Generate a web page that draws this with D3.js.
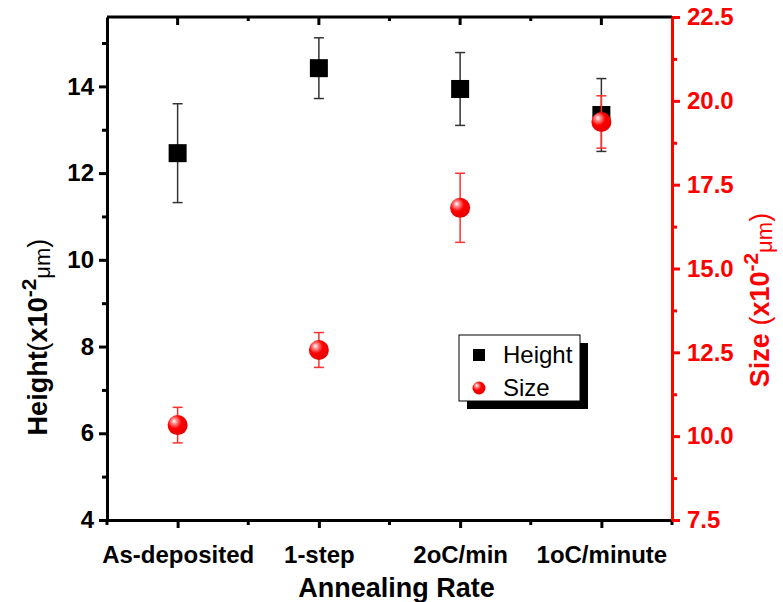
<!DOCTYPE html>
<html>
<head>
<meta charset="utf-8">
<script src="https://cdn.jsdelivr.net/npm/d3@7"></script>
<style>
  body { margin: 0; background: #fff; }
  text { font-family: Arial, "Liberation Sans", sans-serif; }
</style>
</head>
<body>
<div id="chart"></div>
<script>
// data
const categories = ["As-deposited", "1-step", "2oC/min", "1oC/minute"];
const heightValues = [12.46, 14.42, 13.94, 13.34];
const heightErrors = [1.14, 0.70, 0.84, 0.84];
const sizeValues = [10.33, 12.57, 16.81, 19.37];
const sizeErrors = [0.53, 0.52, 1.03, 0.78];
const leftTicks = [4, 6, 8, 10, 12, 14];
const leftMinor = [5, 7, 9, 11, 13, 15];
const rightTicks = [7.5, 10, 12.5, 15, 17.5, 20, 22.5];
const rightMinor = [8.75, 11.25, 13.75, 16.25, 18.75, 21.25];

const width = 783, height = 602;
const plot = { left: 107, right: 672, top: 17, bottom: 520 };
const RED = "#ff0000";
const tickFont = "24px";

const svg = d3.select("#chart")
  .append("svg")
  .attr("width", width)
  .attr("height", height);

const x = d3.scalePoint()
  .domain(categories)
  .range([plot.left, plot.right])
  .padding(0.5);

const yL = d3.scaleLinear().domain([4, 15.6]).range([plot.bottom, plot.top]);
const yR = d3.scaleLinear().domain([7.5, 22.5]).range([plot.bottom, plot.top]);

// gradient for the red balls
const defs = svg.append("defs");
const grad = defs.append("radialGradient")
  .attr("id", "ball")
  .attr("cx", "38%").attr("cy", "36%").attr("r", "62%")
  .attr("fx", "32%").attr("fy", "30%");
grad.append("stop").attr("offset", "0%").attr("stop-color", "#ffffff");
grad.append("stop").attr("offset", "22%").attr("stop-color", "#ff8a8a");
grad.append("stop").attr("offset", "55%").attr("stop-color", "#ff0000");
grad.append("stop").attr("offset", "100%").attr("stop-color", "#e80000");

// frame top line with inward ticks
svg.append("line")
  .attr("x1", plot.left).attr("x2", plot.right)
  .attr("y1", plot.top).attr("y2", plot.top)
  .attr("stroke", "#000").attr("stroke-width", 3);

const edges = categories.map(c => x(c) - x.step() / 2)
  .concat([x(categories[categories.length - 1]) + x.step() / 2]);

svg.append("g").selectAll("line")
  .data(categories)
  .join("line")
  .attr("x1", d => x(d)).attr("x2", d => x(d))
  .attr("y1", plot.top).attr("y2", plot.top + 8)
  .attr("stroke", "#000").attr("stroke-width", 3);

svg.append("g").selectAll("line")
  .data(edges.slice(1, -1))
  .join("line")
  .attr("x1", d => d).attr("x2", d => d)
  .attr("y1", plot.top).attr("y2", plot.top + 4)
  .attr("stroke", "#000").attr("stroke-width", 3);

// bottom axis
const xAxis = svg.append("g")
  .attr("transform", `translate(0,${plot.bottom})`)
  .call(d3.axisBottom(x).tickSize(8).tickPadding(18).tickSizeOuter(0));
xAxis.select(".domain").attr("stroke-width", 3);
xAxis.selectAll(".tick line").attr("stroke-width", 3);
xAxis.selectAll("text")
  .style("font-size", tickFont)
  .style("font-weight", "bold")
  .attr("fill", "#000");

svg.append("g").selectAll("line")
  .data(edges)
  .join("line")
  .attr("x1", d => d).attr("x2", d => d)
  .attr("y1", plot.bottom).attr("y2", plot.bottom + 5)
  .attr("stroke", "#000").attr("stroke-width", 3);

// left axis
const leftAxis = svg.append("g")
  .attr("transform", `translate(${plot.left},0)`)
  .call(d3.axisLeft(yL).tickValues(leftTicks).tickSize(8).tickPadding(5).tickSizeOuter(0));
leftAxis.select(".domain").attr("stroke-width", 3);
leftAxis.selectAll(".tick line").attr("stroke-width", 3);
leftAxis.selectAll("text")
  .style("font-size", tickFont)
  .style("font-weight", "bold")
  .attr("fill", "#000");

svg.append("g")
  .attr("transform", `translate(${plot.left},0)`)
  .call(d3.axisLeft(yL).tickValues(leftMinor).tickSize(5).tickFormat(""))
  .call(g => g.select(".domain").remove())
  .selectAll(".tick line").attr("stroke-width", 3);

// right axis (red)
const rightAxis = svg.append("g")
  .attr("transform", `translate(${plot.right},0)`)
  .call(d3.axisRight(yR).tickValues(rightTicks).tickSize(8).tickPadding(7)
    .tickSizeOuter(0).tickFormat(d3.format(".1f")));
rightAxis.select(".domain").attr("stroke", RED).attr("stroke-width", 3);
rightAxis.selectAll(".tick line").attr("stroke", RED).attr("stroke-width", 3);
rightAxis.selectAll("text")
  .style("font-size", tickFont)
  .style("font-weight", "bold")
  .attr("fill", RED);

svg.append("g")
  .attr("transform", `translate(${plot.right},0)`)
  .call(d3.axisRight(yR).tickValues(rightMinor).tickSize(5).tickFormat(""))
  .call(g => g.select(".domain").remove())
  .selectAll(".tick line").attr("stroke", RED).attr("stroke-width", 3);

// axis titles
svg.append("text")
  .attr("x", (plot.left + plot.right) / 2 + 7)
  .attr("y", 597)
  .attr("text-anchor", "middle")
  .style("font-size", "27px")
  .style("font-weight", "bold")
  .text("Annealing Rate");

function unitTitle(sel, label, color) {
  sel.attr("text-anchor", "middle")
    .style("font-size", "27px")
    .style("font-weight", "bold")
    .attr("fill", color);
  sel.append("tspan").text(label);
  sel.append("tspan").style("font-weight", "normal").text("(");
  sel.append("tspan").text("x10");
  sel.append("tspan").attr("dy", -11).style("font-size", "21px").text("-2");
  sel.append("tspan").attr("dy", 14).style("font-size", "22px").style("font-weight", "normal").text("μm");
  sel.append("tspan").attr("dy", -3).style("font-weight", "normal").text(")");
}

svg.append("text")
  .attr("transform", "translate(47,337) rotate(-90)")
  .call(unitTitle, "Height", "#000");

svg.append("text")
  .attr("transform", "translate(769,300) rotate(-90)")
  .call(unitTitle, "Size ", RED);

// height error bars + squares
const capW = 10;
const hErr = svg.append("g");
categories.forEach((c, i) => {
  const lo = yL(heightValues[i] - heightErrors[i]);
  const hi = yL(heightValues[i] + heightErrors[i]);
  hErr.append("line").attr("x1", x(c)).attr("x2", x(c)).attr("y1", lo).attr("y2", hi);
  hErr.append("line").attr("x1", x(c) - capW / 2).attr("x2", x(c) + capW / 2).attr("y1", lo).attr("y2", lo);
  hErr.append("line").attr("x1", x(c) - capW / 2).attr("x2", x(c) + capW / 2).attr("y1", hi).attr("y2", hi);
});
hErr.attr("stroke", "#333").attr("stroke-width", 1.5);

svg.append("g").selectAll("rect")
  .data(categories)
  .join("rect")
  .attr("x", d => x(d) - 9)
  .attr("y", (d, i) => yL(heightValues[i]) - 9)
  .attr("width", 18)
  .attr("height", 18)
  .attr("fill", "#000");

// size error bars + balls
const sErr = svg.append("g");
categories.forEach((c, i) => {
  const lo = yR(sizeValues[i] - sizeErrors[i]);
  const hi = yR(sizeValues[i] + sizeErrors[i]);
  sErr.append("line").attr("x1", x(c)).attr("x2", x(c)).attr("y1", lo).attr("y2", hi);
  sErr.append("line").attr("x1", x(c) - capW / 2).attr("x2", x(c) + capW / 2).attr("y1", lo).attr("y2", lo);
  sErr.append("line").attr("x1", x(c) - capW / 2).attr("x2", x(c) + capW / 2).attr("y1", hi).attr("y2", hi);
});
sErr.attr("stroke", "#ff3030").attr("stroke-width", 1.5);

svg.append("g").selectAll("circle")
  .data(categories)
  .join("circle")
  .attr("cx", d => x(d))
  .attr("cy", (d, i) => yR(sizeValues[i]))
  .attr("r", 10)
  .attr("fill", "url(#ball)");

// legend
const legend = svg.append("g").attr("transform", "translate(459,335)");
legend.append("rect")
  .attr("x", 8).attr("y", 8).attr("width", 121).attr("height", 66)
  .attr("fill", "#000");
legend.append("rect")
  .attr("width", 121).attr("height", 66)
  .attr("fill", "#fff").attr("stroke", "#000").attr("stroke-width", 1);
legend.append("rect")
  .attr("x", 14).attr("y", 14).attr("width", 12).attr("height", 12)
  .attr("fill", "#000");
legend.append("circle")
  .attr("cx", 20).attr("cy", 53).attr("r", 6.5)
  .attr("fill", "url(#ball)");
legend.append("text")
  .attr("x", 44).attr("y", 28)
  .style("font-size", "24px")
  .text("Height");
legend.append("text")
  .attr("x", 44).attr("y", 61)
  .style("font-size", "24px")
  .text("Size");
</script>
</body>
</html>
